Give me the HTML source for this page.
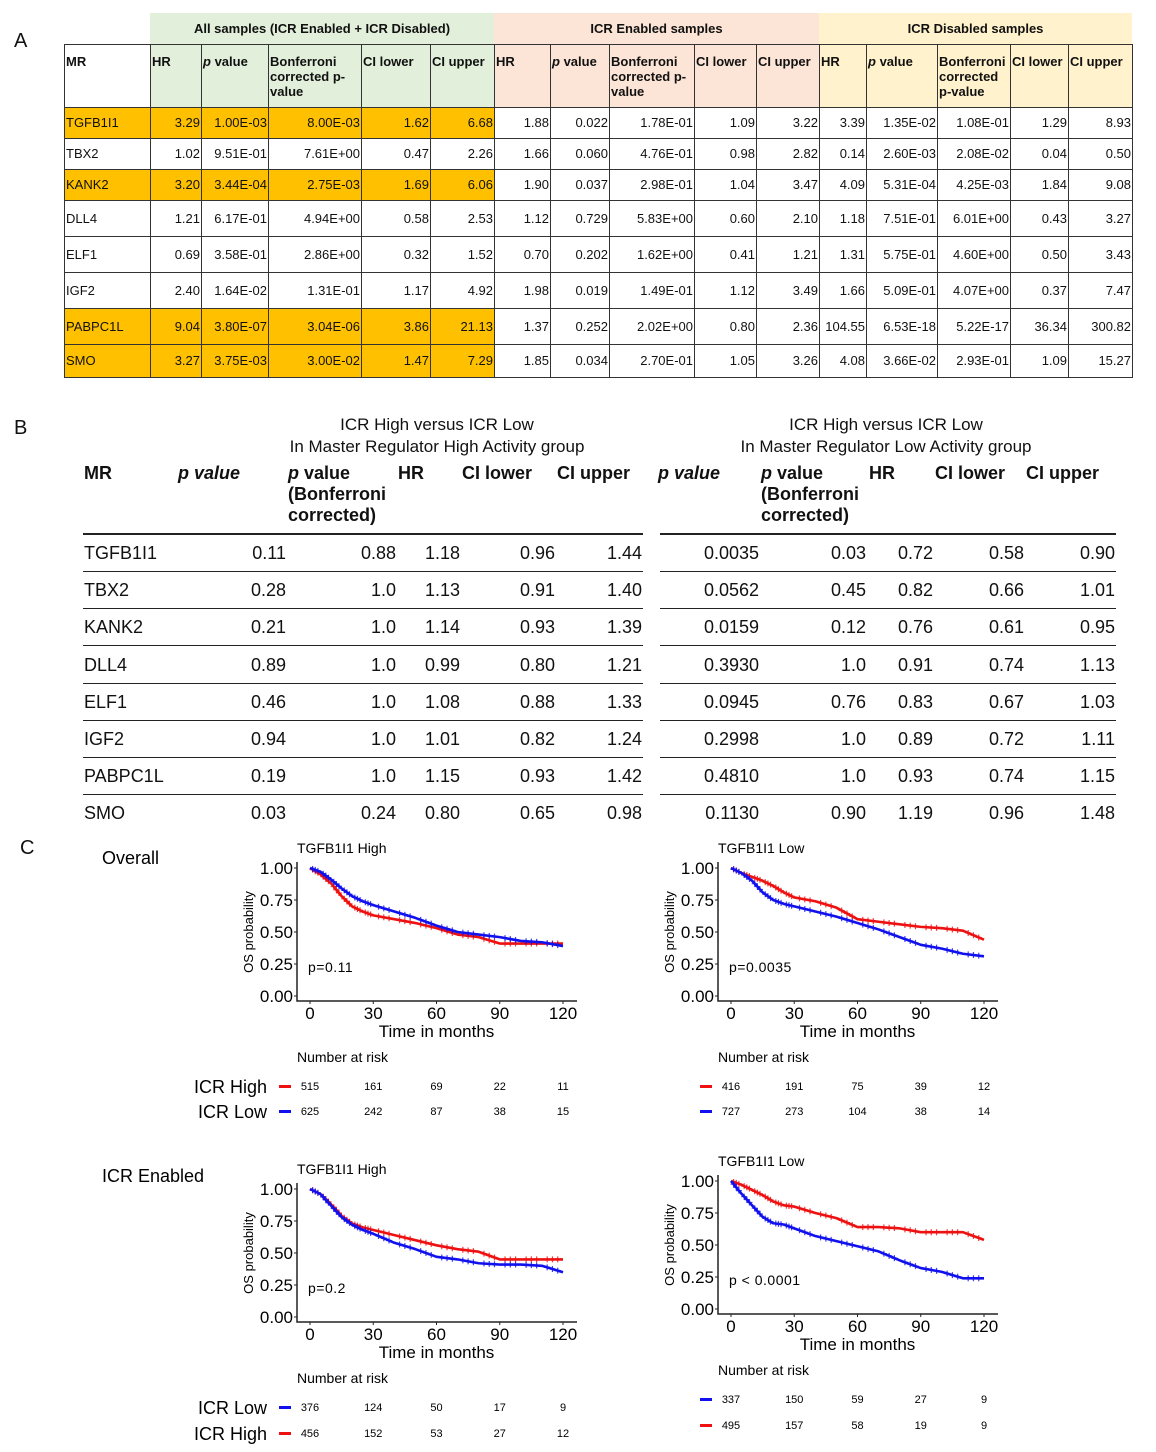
<!DOCTYPE html>
<html><head><meta charset="utf-8">
<style>
body{margin:0;width:1156px;height:1452px;position:relative;background:#fff;font-family:"Liberation Sans",sans-serif;color:#111;overflow:hidden}
.abs{position:absolute;white-space:nowrap}
#tA{position:absolute;left:64px;top:44px;border-collapse:collapse;table-layout:fixed;font-size:13px}
#tA td{border:1px solid #333;padding:0 1px;overflow:hidden;line-height:14px}
#tA tr.h td{vertical-align:top;font-weight:bold;line-height:15px;padding-top:9px;white-space:normal}
#tA td.n{text-align:right}
.g{background:#e2efda}.p{background:#fce4d6}.y{background:#fff2cc}.o{background:#ffc000}
.band{position:absolute;top:13px;height:31px;line-height:31px;text-align:center;font-weight:bold;font-size:13px}
.bh{position:absolute;font-weight:bold;font-size:18px;line-height:21px;top:463px}
.bt{position:absolute;font-size:17px;text-align:center;line-height:22px;top:414px}
.cell{position:absolute;font-size:18px;line-height:20px}
.hl{position:absolute;height:2px;background:#222}
</style></head><body>
<div class="abs" style="left:14px;top:30px;font-size:20px">A</div>
<div class="abs" style="left:14px;top:417px;font-size:20px">B</div>
<div class="abs" style="left:20px;top:837px;font-size:20px">C</div>

<div class="band g" style="left:150px;width:344px">All samples (ICR Enabled + ICR Disabled)</div>
<div class="band p" style="left:494px;width:325px">ICR Enabled samples</div>
<div class="band y" style="left:819px;width:313px">ICR Disabled samples</div>
<table id="tA"></table>

<div class="bt" style="left:237px;width:400px">ICR High versus ICR Low<br>In Master Regulator High Activity group</div>
<div class="bt" style="left:686px;width:400px">ICR High versus ICR Low<br>In Master Regulator Low Activity group</div>
<div id="tB"></div>

<svg id="km" class="abs" style="left:0;top:0" width="1156" height="1452"></svg>

<script>
// ---------- Table A data ----------
const aGenes=["TGFB1I1","TBX2","KANK2","DLL4","ELF1","IGF2","PABPC1L","SMO"];
const aAll=[["3.29","1.00E-03","8.00E-03","1.62","6.68"],["1.02","9.51E-01","7.61E+00","0.47","2.26"],["3.20","3.44E-04","2.75E-03","1.69","6.06"],["1.21","6.17E-01","4.94E+00","0.58","2.53"],["0.69","3.58E-01","2.86E+00","0.32","1.52"],["2.40","1.64E-02","1.31E-01","1.17","4.92"],["9.04","3.80E-07","3.04E-06","3.86","21.13"],["3.27","3.75E-03","3.00E-02","1.47","7.29"]];
const aEn=[["1.88","0.022","1.78E-01","1.09","3.22"],["1.66","0.060","4.76E-01","0.98","2.82"],["1.90","0.037","2.98E-01","1.04","3.47"],["1.12","0.729","5.83E+00","0.60","2.10"],["0.70","0.202","1.62E+00","0.41","1.21"],["1.98","0.019","1.49E-01","1.12","3.49"],["1.37","0.252","2.02E+00","0.80","2.36"],["1.85","0.034","2.70E-01","1.05","3.26"]];
const aDis=[["3.39","1.35E-02","1.08E-01","1.29","8.93"],["0.14","2.60E-03","2.08E-02","0.04","0.50"],["4.09","5.31E-04","4.25E-03","1.84","9.08"],["1.18","7.51E-01","6.01E+00","0.43","3.27"],["1.31","5.75E-01","4.60E+00","0.50","3.43"],["1.66","5.09E-01","4.07E+00","0.37","7.47"],["104.55","6.53E-18","5.22E-17","36.34","300.82"],["4.08","3.66E-02","2.93E-01","1.09","15.27"]];
const aHighlight=[0,2,6,7];
const colW=[86,51,67,93,69,64,56,59,85,62,63,47,71,73,58,64];
const rowH=[31,31,31,36,36,36,36,33];
const hdrA=["HR","<i>p</i> value","Bonferroni corrected p-value","CI lower","CI upper"];
const hdrC=["HR","<i>p</i> value","Bonferroni corrected p-value","CI lower","CI upper"];
const hdrD=["HR","<i>p</i> value","Bonferroni corrected p-value","CI lower","CI upper"];
const tA=document.getElementById('tA');
let cg='<colgroup>'+colW.map(w=>'<col style="width:'+w+'px">').join('')+'</colgroup>';
tA.innerHTML=cg;
const hr=document.createElement('tr');hr.className='h';hr.style.height='63px';


const hcells=[['MR','']].concat(hdrA.map(h=>[h,'g']),hdrC.map(h=>[h,'p']),hdrD.map(h=>[h,'y']));
hcells.forEach(([t,c])=>{const td=document.createElement('td');td.innerHTML=t;if(c)td.className=c;


hr.appendChild(td);});
tA.appendChild(hr);
aGenes.forEach((g,i)=>{const tr=document.createElement('tr');tr.style.height=rowH[i]+'px';


const hi=aHighlight.includes(i);
const vals=[g].concat(aAll[i],aEn[i],aDis[i]);
vals.forEach((v,j)=>{const td=document.createElement('td');td.textContent=v;
let cls=j>0?'n':'';if(hi&&j<=5)cls+=' o';td.className=cls;


tr.appendChild(td);});
tA.appendChild(tr);});

// ---------- Table B data ----------
const bGenes=["TGFB1I1","TBX2","KANK2","DLL4","ELF1","IGF2","PABPC1L","SMO"];
const bHigh=[["0.11","0.88","1.18","0.96","1.44"],["0.28","1.0","1.13","0.91","1.40"],["0.21","1.0","1.14","0.93","1.39"],["0.89","1.0","0.99","0.80","1.21"],["0.46","1.0","1.08","0.88","1.33"],["0.94","1.0","1.01","0.82","1.24"],["0.19","1.0","1.15","0.93","1.42"],["0.03","0.24","0.80","0.65","0.98"]];
const bLow=[["0.0035","0.03","0.72","0.58","0.90"],["0.0562","0.45","0.82","0.66","1.01"],["0.0159","0.12","0.76","0.61","0.95"],["0.3930","1.0","0.91","0.74","1.13"],["0.0945","0.76","0.83","0.67","1.03"],["0.2998","1.0","0.89","0.72","1.11"],["0.4810","1.0","0.93","0.74","1.15"],["0.1130","0.90","1.19","0.96","1.48"]];
const tB=document.getElementById('tB');
const rightL=[286,396,460,555,642], rightR=[759,866,933,1024,1115];
const bHdr=[[84,"MR"],[178,"<i>p value</i>"],[288,"<i>p</i> value<br>(Bonferroni<br>corrected)"],[398,"HR"],[462,"CI lower"],[557,"CI upper"],[658,"<i>p value</i>"],[761,"<i>p</i> value<br>(Bonferroni<br>corrected)"],[869,"HR"],[935,"CI lower"],[1026,"CI upper"]];
bHdr.forEach(([x,t])=>{const d=document.createElement('div');d.className='bh';d.style.left=x+'px';d.innerHTML=t;


tB.appendChild(d);});
function hline(x1,x2,y,h){const d=document.createElement('div');d.className='hl';d.style.left=x1+'px';d.style.width=(x2-x1)+'px';d.style.top=y+'px';d.style.height=h+'px';


tB.appendChild(d);}
hline(83,643,533,2);hline(660,1116,533,2);
bGenes.forEach((g,i)=>{const yc=553+i*37.2;
const m=document.createElement('div');m.className='cell';m.style.left='84px';m.style.top=(yc-10)+'px';m.textContent=g;


tB.appendChild(m);
bHigh[i].forEach((v,j)=>{const d=document.createElement('div');d.className='cell';d.style.right=(1156-rightL[j])+'px';d.style.top=(yc-10)+'px';d.textContent=v;


tB.appendChild(d);});
bLow[i].forEach((v,j)=>{const d=document.createElement('div');d.className='cell';d.style.right=(1156-rightR[j])+'px';d.style.top=(yc-10)+'px';d.textContent=v;


tB.appendChild(d);});
if(i<7){hline(83,643,yc+18,1);hline(660,1116,yc+18,1);}
});

// ---------- KM data ----------
const kmTimes=[0,5,10,15,20,25,30,40,50,60,70,80,90,100,110,120];
const km1Red=[1,0.95,0.88,0.78,0.70,0.66,0.63,0.60,0.57,0.53,0.48,0.46,0.41,0.41,0.41,0.41];
const km1Blue=[1,0.97,0.91,0.84,0.78,0.74,0.71,0.66,0.61,0.55,0.50,0.48,0.46,0.43,0.42,0.39];
const km2Red=[1,0.96,0.93,0.90,0.86,0.81,0.77,0.74,0.69,0.60,0.58,0.56,0.54,0.53,0.51,0.44];
const km2Blue=[1,0.96,0.90,0.81,0.75,0.72,0.70,0.66,0.62,0.57,0.52,0.46,0.40,0.37,0.33,0.31];
const km3Red=[1,0.96,0.88,0.79,0.73,0.70,0.68,0.64,0.60,0.56,0.53,0.51,0.45,0.45,0.45,0.45];
const km3Blue=[1,0.96,0.87,0.78,0.72,0.68,0.65,0.58,0.53,0.47,0.45,0.42,0.41,0.41,0.40,0.35];
const km4Red=[1,0.97,0.93,0.89,0.84,0.81,0.80,0.75,0.71,0.64,0.64,0.63,0.60,0.60,0.60,0.54];
const km4Blue=[1,0.90,0.81,0.72,0.67,0.66,0.63,0.57,0.53,0.49,0.45,0.38,0.32,0.29,0.24,0.24];
const riskTimes=[0,30,60,90,120];
const risk1Red=[515,161,69,22,11], risk1Blue=[625,242,87,38,15];
const risk2Red=[416,191,75,39,12], risk2Blue=[727,273,104,38,14];
const risk3Blue=[376,124,50,17,9], risk3Red=[456,152,53,27,12];
const risk4Blue=[337,150,59,27,9], risk4Red=[495,157,58,19,9];
const yTicks=[0,0.25,0.5,0.75,1], yTickLabels=["0.00","0.25","0.50","0.75","1.00"];
const xTicks=[0,30,60,90,120];

const svg=document.getElementById('km');const NS='http://www.w3.org/2000/svg';
function el(tag,attrs,txt){const e=document.createElementNS(NS,tag);for(const k in attrs)e.setAttribute(k,attrs[k]);if(txt!=null)e.textContent=txt;svg.appendChild(e);return e;}
function plot(dx,dy,title,ptxt,red,blue){
  const x0=310+dx,x1=563+dx,y1=868+dy,y0=996+dy;
  const X=t=>x0+(x1-x0)*t/120, Y=v=>y0-(y0-y1)*v;
  const ax=297+dx, ay=1001+dy;
  let e=el('text',{x:297+dx,y:853+dy,'font-size':14},title);
  
  
  e=el('path',{d:`M${ax} ${y1-6}V${ay}H${x1+14}`,stroke:'#222','stroke-width':1.5,fill:'none'});
  
  
  yTicks.forEach((v,i)=>{let t=el('text',{x:ax-4,y:Y(v)+6,'font-size':17,'text-anchor':'end'},yTickLabels[i]);
    
    
    el('line',{x1:ax-3,x2:ax,y1:Y(v),y2:Y(v),stroke:'#222'});});
  xTicks.forEach(v=>{let t=el('text',{x:X(v),y:ay+18,'font-size':17,'text-anchor':'middle'},String(v));
    
    
    el('line',{x1:X(v),x2:X(v),y1:ay,y2:ay+3,stroke:'#222'});});
  e=el('text',{x:(x0+x1)/2,y:ay+36,'font-size':17,'text-anchor':'middle'},'Time in months');
  
  
  e=el('text',{transform:`translate(${253+dx},${932+dy}) rotate(-90)`,'font-size':13,'text-anchor':'middle'},'OS probability');
  
  
  e=el('text',{x:308+dx,y:972+dy,'font-size':14,'letter-spacing':'0.5'},ptxt);
  
  
  [[red,'#ee1111'],[blue,'#1111ee']].forEach(([s,c])=>{
    let d='M'+X(kmTimes[0])+' '+Y(s[0]);
    for(let i=1;i<s.length;i++){d+=`L${X(kmTimes[i])} ${Y(s[i])}`;}
    let p=el('path',{d:d,stroke:c,'stroke-width':2.6,fill:'none','stroke-linejoin':'round'});
    
    
    for(let i=1;i<s.length;i++){for(let f=0.25;f<1;f+=0.25){
      const tx=X(kmTimes[i-1])+(X(kmTimes[i])-X(kmTimes[i-1]))*f, ty=Y(s[i-1])+(Y(s[i])-Y(s[i-1]))*f;
      el('path',{d:`M${tx-3} ${ty}h6M${tx} ${ty-3}v6`,stroke:c,'stroke-width':1.2,opacity:0.8});}}
  });
}
function risk(dx,nY,rows,labels){
  let e=el('text',{x:297+dx,y:nY,'font-size':14},'Number at risk');
  
  
  const X=t=>310+dx+253*t/120;
  rows.forEach(([vals,c,y],k)=>{
    el('rect',{x:279+dx,y:y-5,width:12,height:3,fill:c});
    if(labels){let l=el('text',{x:267+dx,y:y+3,'font-size':18,'text-anchor':'end'},labels[k]);
      
      }
    vals.forEach((v,i)=>{let t=el('text',{x:X(riskTimes[i]),y:y,'font-size':11,'text-anchor':'middle'},String(v));
      
      });
  });
}
const R='#ee1111',B='#1111ee';
plot(0,0,'TGFB1I1 High','p=0.11',km1Red,km1Blue);
plot(421,0,'TGFB1I1 Low','p=0.0035',km2Red,km2Blue);
plot(0,321,'TGFB1I1 High','p=0.2',km3Red,km3Blue);
plot(421,313,'TGFB1I1 Low','p < 0.0001',km4Red,km4Blue);
risk(0,1062,[[risk1Red,R,1090],[risk1Blue,B,1115]],['ICR High','ICR Low']);
risk(421,1062,[[risk2Red,R,1090],[risk2Blue,B,1115]],null);
risk(0,1383,[[risk3Blue,B,1411],[risk3Red,R,1437]],['ICR Low','ICR High']);
risk(421,1375,[[risk4Blue,B,1403],[risk4Red,R,1429]],null);
let s1=el('text',{x:102,y:864,'font-size':18},'Overall');


let s2=el('text',{x:102,y:1182,'font-size':18},'ICR Enabled');


</script>
</body></html>
